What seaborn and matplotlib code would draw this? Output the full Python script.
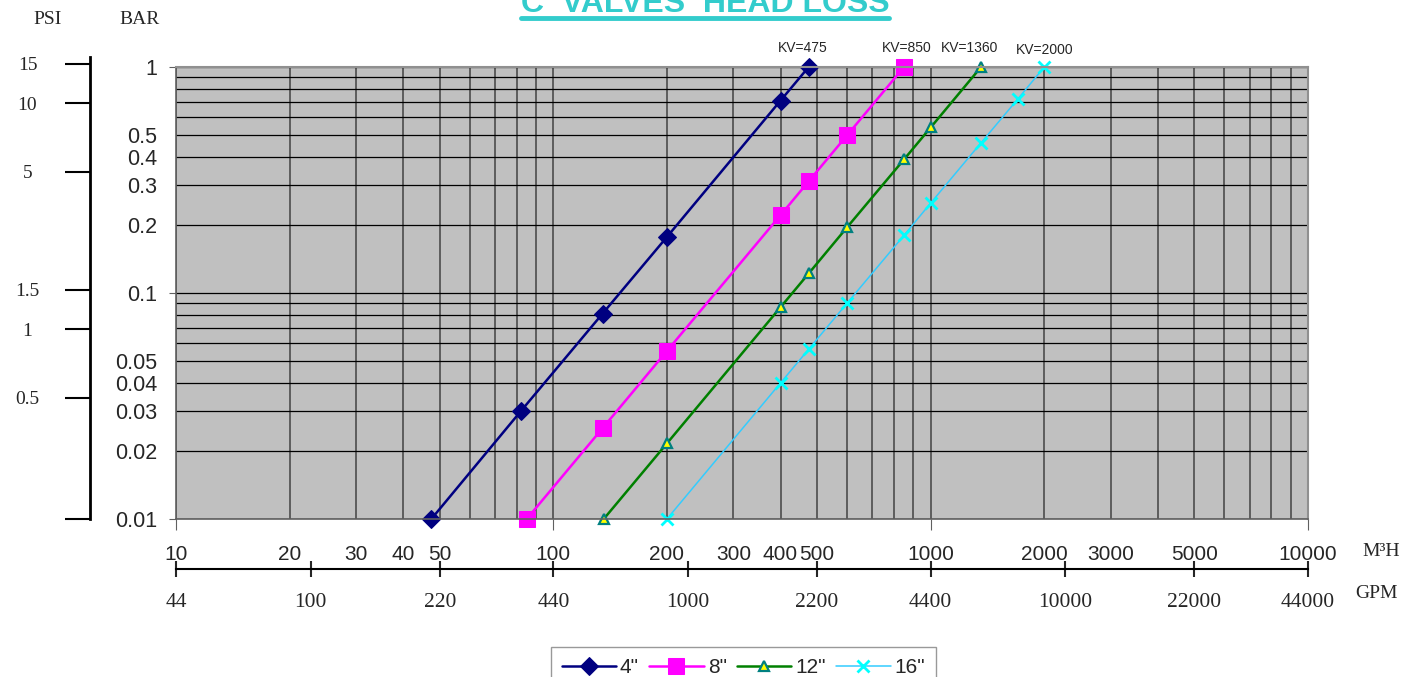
import numpy as np
import pandas as pd
import seaborn as sns
import matplotlib.pyplot as plt
from matplotlib.lines import Line2D
from matplotlib.ticker import LogLocator, NullFormatter, NullLocator

# data (flow in m3/h, head loss in bar)
sizes = ['4"', '8"', '12"', '16"']
kv_labels = ['KV=475', 'KV=850', 'KV=1360', 'KV=2000']

flow_4 = [47.5, 82, 135, 200, 400, 475]
loss_4 = [0.01, 0.03, 0.081, 0.177, 0.71, 1.0]
flow_8 = [85, 135, 200, 400, 475, 600, 850]
loss_8 = [0.01, 0.0252, 0.0554, 0.221, 0.312, 0.498, 1.0]
flow_12 = [136, 200, 400, 475, 600, 850, 1000, 1360]
loss_12 = [0.01, 0.0216, 0.0865, 0.122, 0.195, 0.39, 0.54, 1.0]
flow_16 = [200, 400, 475, 600, 850, 1000, 1360, 1700, 2000]
loss_16 = [0.01, 0.04, 0.0564, 0.09, 0.18, 0.25, 0.462, 0.72, 1.0]

m3h_ticks = [10, 20, 30, 40, 50, 100, 200, 300, 400, 500, 1000, 2000, 3000, 5000, 10000]
bar_ticks = [0.01, 0.02, 0.03, 0.04, 0.05, 0.1, 0.2, 0.3, 0.4, 0.5, 1]
bar_labels = ['0.01', '0.02', '0.03', '0.04', '0.05', '0.1', '0.2', '0.3', '0.4', '0.5', '1']
gpm_ticks = [44, 100, 220, 440, 1000, 2200, 4400, 10000, 22000, 44000]
psi_ticks = [0.145, 0.5, 1, 1.5, 5, 10, 15]
psi_labels = ['', '0.5', '1', '1.5', '5', '10', '15']

GPM_PER_M3H = 4.4
PSI_PER_BAR = 14.5

df = pd.concat([
    pd.DataFrame({'size': s, 'flow': f, 'loss': l})
    for s, f, l in zip(sizes, [flow_4, flow_8, flow_12, flow_16],
                       [loss_4, loss_8, loss_12, loss_16])
])

styles = {
    '4"': dict(color='#000080', marker='D', markersize=9.5, markerfacecolor='#000080',
               markeredgecolor='#000080', linewidth=1.8),
    '8"': dict(color='#FF00FF', marker='s', markersize=11.5, markerfacecolor='#FF00FF',
               markeredgecolor='#FF00FF', linewidth=1.8),
    '12"': dict(color='#008000', marker='^', markersize=6.5, markerfacecolor='#FFFF00',
                markeredgecolor='#008080', markeredgewidth=1.6, linewidth=1.8),
    '16"': dict(color='#33CCFF', marker='x', markersize=8, markeredgecolor='#00FFFF',
                markeredgewidth=2, linewidth=1.1),
}

sns.set_style('ticks')
plt.rcParams['font.family'] = ['Liberation Sans', 'DejaVu Sans']
SERIF = ['Liberation Serif', 'DejaVu Serif']

W, H = 1407, 677
fig = plt.figure(figsize=(W / 100, H / 100), dpi=100)
ax = fig.add_axes([176 / W, 1 - 519 / H, (1308 - 176) / W, (519 - 67) / H])
ax.set_facecolor('#C0C0C0')

handles = []
for s in sizes:
    sns.lineplot(data=df[df['size'] == s], x='flow', y='loss', ax=ax,
                 estimator=None, sort=False, legend=False, clip_on=False, **styles[s])
    handles.append(ax.lines[-1])

ax.set_xscale('log')
ax.set_yscale('log')
ax.set_xlim(10, 10000)
ax.set_ylim(0.01, 1)
ax.set_xlabel('')
ax.set_ylabel('')

# KV labels above the end of each curve
kv_offsets = [(-4, 14), (2, 14), (-8, 14), (0, 12)]
for lbl, f, l, off in zip(kv_labels, [flow_4, flow_8, flow_12, flow_16],
                          [loss_4, loss_8, loss_12, loss_16], kv_offsets):
    ax.annotate(lbl, (f[-1], l[-1]), xytext=off, textcoords='offset points',
                ha='center', va='center', fontsize=10, annotation_clip=False)

# ticks and grid
ax.set_xticks(m3h_ticks, labels=[str(v) for v in m3h_ticks])
ax.set_yticks(bar_ticks, labels=bar_labels)
ax.xaxis.set_minor_locator(LogLocator(base=10, subs=np.arange(1, 10)))
ax.yaxis.set_minor_locator(LogLocator(base=10, subs=np.arange(1, 10)))
ax.xaxis.set_minor_formatter(NullFormatter())
ax.yaxis.set_minor_formatter(NullFormatter())
ax.tick_params(which='minor', length=0)
ax.tick_params(axis='x', which='major', bottom=True, labelsize=15, pad=15,
               color='#606060', direction='out')
ax.tick_params(axis='y', which='major', left=True, labelsize=15.5, pad=10,
               color='#606060', direction='out')
for t, v in zip(ax.xaxis.get_major_ticks(), m3h_ticks):
    t.tick1line.set_markersize(8 if v in (10, 100, 1000, 10000) else 0)
for t, v in zip(ax.yaxis.get_major_ticks(), bar_ticks):
    t.tick1line.set_markersize(5 if v in (0.01, 0.1, 1) else 0)

ax.grid(True, which='both', axis='x', color='#555555', linewidth=1.3)
ax.grid(True, which='both', axis='y', color='black', linewidth=0.9)
ax.set_axisbelow(True)
for side in ['top', 'right']:
    ax.spines[side].set_color('#909090')
    ax.spines[side].set_linewidth(1.5)
for side in ['left', 'bottom']:
    ax.spines[side].set_color('#606060')
    ax.spines[side].set_linewidth(1.2)

# GPM scale under the m3/h axis
sec = ax.secondary_xaxis((519 - 569) / (519 - 67),
                         functions=(lambda q: q * GPM_PER_M3H, lambda g: g / GPM_PER_M3H))
sec.set_xticks(gpm_ticks, labels=[str(v) for v in gpm_ticks], fontfamily=SERIF)
sec.xaxis.set_minor_locator(NullLocator())
sec.tick_params(bottom=True, direction='inout', length=12, width=1.5, labelsize=15.5, pad=11)
sec.spines['bottom'].set_linewidth(1.5)
sec.spines['bottom'].set_color('black')

# PSI scale on the far left
top_bar = 1.107
psi_h = (519 - 67) / H * np.log10(top_bar / 0.01) / 2
psi_ax = fig.add_axes([90 / W, 1 - 519 / H, 0.0005, psi_h])
psi_ax.set_yscale('log')
psi_ax.set_ylim(0.01 * PSI_PER_BAR, top_bar * PSI_PER_BAR)
psi_ax.set_yticks(psi_ticks, labels=psi_labels, fontfamily=SERIF)
psi_ax.yaxis.set_minor_locator(NullLocator())
psi_ax.tick_params(axis='y', left=True, length=18, width=1.5, direction='out',
                   labelsize=14, pad=27, color='black')
for lbl in psi_ax.get_yticklabels():
    lbl.set_ha('center')
psi_ax.set_xticks([])
psi_ax.patch.set_visible(False)
for side in ['top', 'right', 'bottom']:
    psi_ax.spines[side].set_visible(False)
psi_ax.spines['left'].set_linewidth(2)
psi_ax.spines['left'].set_color('black')

# header / axis captions
fig.text(48 / W, 1 - 20 / H, 'PSI', ha='center', va='center', fontsize=14, family=SERIF)
fig.text(140 / W, 1 - 20 / H, 'BAR', ha='center', va='center', fontsize=14, family=SERIF)
fig.text(1362 / W, 1 - 551 / H, 'M³H', ha='left', va='center', fontsize=14, family=SERIF)
fig.text(1355 / W, 1 - 594 / H, 'GPM', ha='left', va='center', fontsize=14, family=SERIF)

title = fig.text(705 / W, 1 - 12 / H, 'C  VALVES  HEAD LOSS', ha='center', va='baseline',
                 fontsize=23, fontweight='bold', color='#33CCCC')
fig.canvas.draw()
bb = title.get_window_extent(fig.canvas.get_renderer())
fig.add_artist(Line2D([bb.x0 / W, bb.x1 / W], [1 - 18 / H] * 2, color='#33CCCC', linewidth=3.5))

leg = fig.legend(handles, sizes, loc='upper center', bbox_to_anchor=(743.5 / W, 1 - 637 / H),
                 ncol=4, fontsize=15, frameon=True, fancybox=False, handlelength=2.6,
                 handletextpad=0.2, columnspacing=0.5, borderpad=0.5, numpoints=1)
leg.get_frame().set_edgecolor('#808080')
leg.get_frame().set_linewidth(1)

fig.savefig('out.png', dpi=100)
